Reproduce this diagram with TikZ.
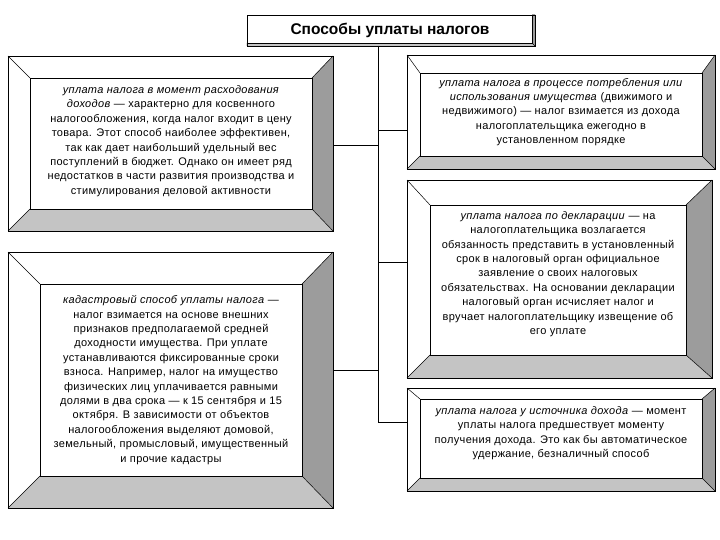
\documentclass[tikz,border=0pt]{standalone}
\usepackage{fontspec}
\setmainfont{Liberation Sans}
\newfontfamily\boxfont[LetterSpace=3]{Liberation Sans}
\usetikzlibrary{fit,calc}
\definecolor{bevR}{HTML}{9C9C9C}
\definecolor{bevB}{HTML}{C4C4C4}
\tikzset{
  frame/.style={inner sep=0pt, outer sep=0pt, draw=none},
  txt/.style={align=center, inner sep=0pt, font=\boxfont\fontsize{11}{14.4}\selectfont},
  ttl/.style={inner sep=0pt, font=\fontsize{15.5}{18}\selectfont\bfseries},
  edge/.style={draw=black, line width=0.8pt},
  conn/.style={draw=black, line width=0.8pt},
}
\newcommand\bevelbox[2]{%
  \fill[white] (#1.north west) rectangle (#1.south east);
  \fill[bevR] (#1.north east) -- (#1.south east) -- (#2.south east) -- (#2.north east) -- cycle;
  \fill[bevB] (#1.south west) -- (#1.south east) -- (#2.south east) -- (#2.south west) -- cycle;
  \draw[line width=0.5pt] (#1.north west) -- (#2.north west)
                          (#1.north east) -- (#2.north east)
                          (#1.south west) -- (#2.south west)
                          (#1.south east) -- (#2.south east);
  \draw[edge, fill=white] (#2.north west) rectangle (#2.south east);
  \draw[edge] (#1.north west) rectangle (#1.south east);
}
\begin{document}
\begin{tikzpicture}[x=1pt,y=-1pt]
\useasboundingbox[fill=white] (0,0) rectangle (720,540);

% title
\node[frame, fit={(247,15) (535,46)}] (tto) {};
\node[frame, fit={(247,15) (532,43)}] (tti) {};
\bevelbox{tto}{tti}
\node[ttl] (title) at (390,30) {Способы уплаты налогов};

% left boxes
\node[frame, fit={(8,56) (333,231)}] (l1o) {};
\node[frame, fit={(30,78) (312,209)}] (l1i) {};
\bevelbox{l1o}{l1i}
\node[txt] (l1) at (171,141) {\textit{уплата налога в момент расходования}\\
\textit{доходов} — характерно для косвенного\\
налогообложения, когда налог входит в цену\\
товара. Этот способ наиболее эффективен,\\
так как дает наибольший удельный вес\\
поступлений в бюджет. Однако он имеет ряд\\
недостатков в части развития производства и\\
стимулирования деловой активности};

\node[frame, fit={(8,252) (333,508)}] (l2o) {};
\node[frame, fit={(40,284) (302,476)}] (l2i) {};
\bevelbox{l2o}{l2i}
\node[txt] (l2) at (171,380) {\textit{кадастровый способ уплаты налога} —\\
налог взимается на основе внешних\\
признаков предполагаемой средней\\
доходности имущества. При уплате\\
устанавливаются фиксированные сроки\\
взноса. Например, налог на имущество\\
физических лиц уплачивается равными\\
долями в два срока — к 15 сентября и 15\\
октября. В зависимости от объектов\\
налогообложения выделяют домовой,\\
земельный, промысловый, имущественный\\
и прочие кадастры};

% right boxes
\node[frame, fit={(407,55) (715,169)}] (r1o) {};
\node[frame, fit={(420,73) (702,156)}] (r1i) {};
\bevelbox{r1o}{r1i}
\node[txt] (r1) at (561,112) {\textit{уплата налога в процессе потребления или}\\
\textit{использования имущества} (движимого и\\
недвижимого) — налог взимается из дохода\\
налогоплательщика ежегодно в\\
установленном порядке};

\node[frame, fit={(407,180) (712,378)}] (r2o) {};
\node[frame, fit={(430,205) (686,355)}] (r2i) {};
\bevelbox{r2o}{r2i}
\node[txt] (r2) at (558,274) {\textit{уплата налога по декларации} — на\\
налогоплательщика возлагается\\
обязанность представить в установленный\\
срок в налоговый орган официальное\\
заявление о своих налоговых\\
обязательствах. На основании декларации\\
налоговый орган исчисляет налог и\\
вручает налогоплательщику извещение об\\
его уплате};

\node[frame, fit={(407,388) (715,491)}] (r3o) {};
\node[frame, fit={(420,399) (702,478)}] (r3i) {};
\bevelbox{r3o}{r3i}
\node[txt] (r3) at (561,433) {\textit{уплата налога у источника дохода} — момент\\
уплаты налога предшествует моменту\\
получения дохода. Это как бы автоматическое\\
удержание, безналичный способ};

% connectors
\coordinate (trunkend) at (378,422);
\draw[conn] (tto.south -| trunkend) -- (trunkend);
\draw[conn] (l1o.east |- 0,145) -- (378,145);
\draw[conn] (l2o.east |- 0,370) -- (378,370);
\draw[conn] (r1o.west |- 0,130) -- (378,130);
\draw[conn] (r2o.west |- 0,262) -- (378,262);
\draw[conn] (r3o.west |- 0,422) -- (trunkend);
\end{tikzpicture}
\end{document}
